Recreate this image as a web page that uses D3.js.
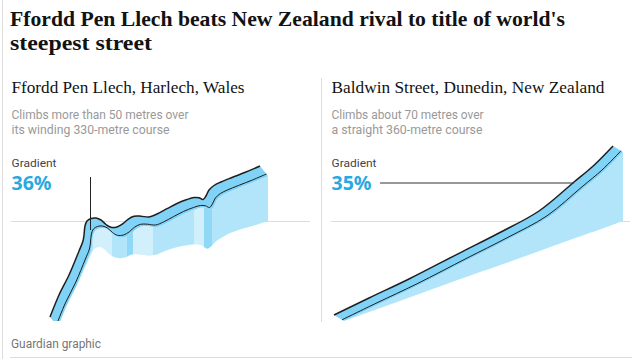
<!DOCTYPE html>
<html><head><meta charset="utf-8">
<script src="https://cdn.jsdelivr.net/npm/d3@7/dist/d3.min.js"></script>
<style>
html,body{margin:0;padding:0;background:#fff;}
svg{display:block;}
</style></head>
<body>
<svg id="c" width="640" height="359"></svg>
<script>
// ---------- data ----------
const titleLines = ["Ffordd Pen Llech beats New Zealand rival to title of world's", "steepest street"];
const panelTitles = ["Ffordd Pen Llech, Harlech, Wales", "Baldwin Street, Dunedin, New Zealand"];
const panelNotes = [["Climbs more than 50 metres over", "its winding 330-metre course"],
                    ["Climbs about 70 metres over", "a straight 360-metre course"]];
const gradientLabel = "Gradient";
const gradients = ["36%", "35%"];
const source = "Guardian graphic";

// Ffordd Pen Llech: projected position along view (m), road elevation above ground (m), projected ground rise (m)
const penDist   = [0, 9, 19, 29, 33, 34, 35, 37, 41, 46, 51, 56, 61, 67, 73, 78, 84, 91, 99, 107, 117, 127, 137, 144, 149, 153, 156, 159, 164, 171, 182, 196, 210];
const penElev   = [0, 0, 0, 2, 3, 7, 14, 17.5, 18.5, 21, 24, 22.5, 21, 20.5, 21, 25, 28.5, 29.5, 27.5, 27, 29, 32, 35, 38, 41, 37, 37.5, 40.5, 42, 41.5, 42, 43.5, 45];
const penGround = [0, 22, 42, 64, 73, 75, 77, 78.5, 80, 78, 73, 70, 68.7, 69.5, 72.3, 72.7, 72.2, 71.3, 72.5, 76, 79.3, 81.5, 82.5, 81.5, 78.2, 80.5, 83.5, 86.5, 89.5, 93.5, 97.5, 101.5, 106];
// wall facets of the winding road (position range, facet shade)
const penFacetFrom  = [0, 35, 54, 69, 75, 95, 136, 146, 154];
const penFacetTo    = [35, 54, 69, 75, 95, 136, 146, 154, 210];
const penFacetShade = ["mid", "pale", "mid", "dark", "pale", "mid", "pale", "dark", "mid"];

// Baldwin Street
const balDist   = [0, 35, 75, 125, 165, 205, 240, 260, 279];
const balElev   = [0, 4.5, 9, 16.7, 23, 30.5, 47, 56.8, 69];
const balGround = [0, 12.5, 27, 45, 59, 73.5, 86, 93, 100];

// ---------- style ----------
const C = {
  road: "#80d3f6", mid: "#b3e5fa", pale: "#d2effc", dark: "#8fd8f6",
  edge: "#1f1f1f", rule: "#dcdcdc", blue: "#27a9e1", grey: "#999999", text: "#121212"
};

const svg = d3.select("#c");

function fitText(sel, w) {
  sel.attr("textLength", w).attr("lengthAdjust", "spacingAndGlyphs");
}

// frame rules
svg.append("line").attr("x1", 2.5).attr("x2", 2.5).attr("y1", 0).attr("y2", 359).attr("stroke", C.rule);
svg.append("line").attr("x1", 10).attr("x2", 632).attr("y1", 357.5).attr("y2", 357.5).attr("stroke", C.rule);
svg.append("line").attr("x1", 321.5).attr("x2", 321.5).attr("y1", 78).attr("y2", 322).attr("stroke", C.rule);

// title
const titleY = [26, 50];
titleLines.forEach((t, i) => {
  const el = svg.append("text").attr("x", 10).attr("y", titleY[i])
    .attr("font-family", "Liberation Serif, serif").attr("font-weight", "bold")
    .attr("font-size", 22).attr("fill", C.text).text(t);
  fitText(el, i === 0 ? 555 : 142);
});

const panelX = [11.5, 331.5];
const titleW = [233, 273];
const noteW = [[177, 158], [152, 151]];
panelTitles.forEach((t, i) => {
  const el = svg.append("text").attr("x", panelX[i]).attr("y", 92.5)
    .attr("font-family", "Liberation Serif, serif").attr("font-size", 17)
    .attr("fill", C.text).text(t);
  fitText(el, titleW[i]);
  panelNotes[i].forEach((n, j) => {
    const e2 = svg.append("text").attr("x", panelX[i]).attr("y", 118.5 + j * 15.5)
      .attr("font-family", "Roboto, sans-serif").attr("font-size", 12)
      .attr("fill", C.grey).text(n);
    fitText(e2, noteW[i][j]);
  });
  const g = svg.append("text").attr("x", panelX[i]).attr("y", 166.5)
    .attr("font-family", "Roboto, sans-serif").attr("font-size", 11.5)
    .attr("fill", "#444").text(gradientLabel);
  fitText(g, 45);
  const p = svg.append("text").attr("x", panelX[i]).attr("y", 189.5)
    .attr("font-family", "Noto Sans, sans-serif").attr("font-weight", "bold").attr("font-size", 20)
    .attr("fill", C.blue).text(gradients[i]);
  fitText(p, 40);
});

const src = svg.append("text").attr("x", 11).attr("y", 348)
  .attr("font-family", "Roboto, sans-serif").attr("font-size", 12).attr("fill", "#767676").text(source);
fitText(src, 90);

// ---------- road drawing ----------
const curve = d3.curveCatmullRom.alpha(0.5);

function drawRoad(g, dist, elev, ground, xs, ys, off, nearFrac, wallFill) {
  const pts = dist.map((d, i) => ({
    x: xs(d), y: ys(ground[i] + elev[i]), gy: ys(ground[i])
  }));
  // wall
  const area = d3.area().x(p => p.x).y0(p => p.gy).y1(p => p.y).curve(curve);
  g.append("path").attr("d", area(pts)).attr("fill", wallFill);
  // road surface
  const far = pts.map(p => [p.x - off[0], p.y - off[1]]);
  const near = pts.map(p => [p.x, p.y]);
  const inner = pts.map(p => [p.x - off[0] * nearFrac, p.y - off[1] * nearFrac]);
  const line = d3.line().curve(curve);
  const back = line(near.slice().reverse()).replace(/^M/, "L");
  g.append("path").attr("d", line(far) + back + "Z").attr("fill", C.road);
  g.append("path").attr("d", line(far)).attr("fill", "none").attr("stroke", C.edge).attr("stroke-width", 1.5);
  g.append("path").attr("d", line(inner)).attr("fill", "none").attr("stroke", C.edge).attr("stroke-width", 1);
  return pts;
}

// left panel
const xL = d3.scaleLinear().domain([0, 210]).range([58, 268]);
const yL = d3.scaleLinear().domain([0, 110]).range([327, 217]);
svg.append("line").attr("x1", 11).attr("x2", 310).attr("y1", 221.5).attr("y2", 221.5).attr("stroke", C.rule);

const defs = svg.append("defs");
defs.append("clipPath").attr("id", "clipL").append("rect").attr("x", 0).attr("y", 100).attr("width", 320).attr("height", 221);
const grad = defs.append("linearGradient").attr("id", "facets").attr("gradientUnits", "userSpaceOnUse")
  .attr("x1", xL(0)).attr("x2", xL(210)).attr("y1", 0).attr("y2", 0);
penFacetFrom.forEach((f, i) => {
  const col = C[penFacetShade[i]];
  grad.append("stop").attr("offset", f / 210).attr("stop-color", col);
  grad.append("stop").attr("offset", penFacetTo[i] / 210).attr("stop-color", col);
});
const gL = svg.append("g").attr("clip-path", "url(#clipL)");
drawRoad(gL, penDist, penElev, penGround, xL, yL, [8, 10], 0.2, "url(#facets)");
// gradient marker
svg.append("line").attr("x1", 90.5).attr("x2", 90.5).attr("y1", 177).attr("y2", 230).attr("stroke", "#222").attr("stroke-width", 1);

// right panel
const xR = d3.scaleLinear().domain([0, 279]).range([344, 623]);
const yR = d3.scaleLinear().domain([0, 100]).range([321, 221]);
svg.append("line").attr("x1", 331).attr("x2", 630).attr("y1", 221.5).attr("y2", 221.5).attr("stroke", C.rule);
const gR = svg.append("g");
drawRoad(gR, balDist, balElev, balGround, xR, yR, [10, 6], 0.2, C.mid);
svg.append("line").attr("x1", 380).attr("x2", xR(240) - 10).attr("y1", 183).attr("y2", 183).attr("stroke", "#333").attr("stroke-width", 1);
</script>
</body></html>
